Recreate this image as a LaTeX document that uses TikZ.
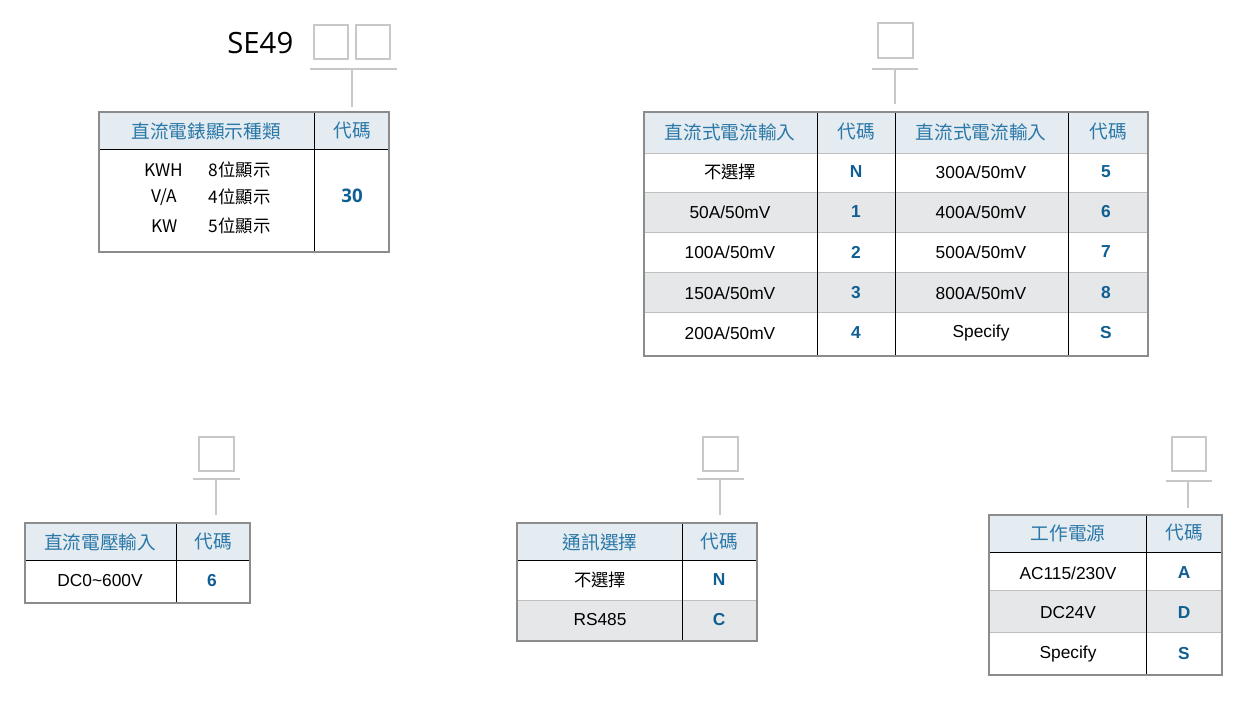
\documentclass[tikz,border=0pt]{standalone}
\usepackage{fontspec}
\setmainfont{Liberation Sans}
\newfontfamily\cjk{Noto Sans CJK TC}
\newfontfamily\opensans{Open Sans}
\definecolor{hdfill}{HTML}{E4EBF1}
\definecolor{rowgray}{HTML}{E6E7E8}
\definecolor{hdtext}{HTML}{2A78A8}
\definecolor{codeblue}{HTML}{0F5F94}
\definecolor{rule}{HTML}{8C8C8C}
\definecolor{thin}{HTML}{C8C8C8}
\tikzset{
  codebox/.style={draw=thin,line width=0.8pt},
  bracket/.style={draw=thin,line width=0.8pt},
  frame/.style={draw=rule,line width=1pt},
  hd/.style={text=hdtext,font=\cjk\fontsize{14}{14}\selectfont},
  cell/.style={font=\fontsize{13}{13}\selectfont},
  cjkcell/.style={font=\cjk\fontsize{13}{13}\selectfont},
  code/.style={text=codeblue,font=\bfseries\fontsize{13}{13}\selectfont}
}
\begin{document}
\begin{tikzpicture}[x=0.75pt,y=-0.75pt]
    \useasboundingbox (0,0) rectangle (1248,700);
    % model number
    \begin{scope}
      \node[anchor=east,font=\opensans\fontsize{22}{22}\selectfont] (model) at (298,43) {SE49};
      \draw[codebox] (314,25) rectangle (348,59);
      \draw[codebox] (356,25) rectangle (390,59);
      \draw[bracket] (310,69) -- (397,69);
      \draw[bracket] (352,69) -- (352,107);
      \fill[hdfill] (99,112) rectangle (389,149);
      \draw[thin] (99,149) -- (389,149);
      \draw[thin] (314,112) -- (314,252);
      \draw[frame] (99,112) rectangle (389,252);
      \node[hd] (t1h1) at (206,131) {直流電錶顯示種類};
      \node[hd] (t1h2) at (352,131) {代碼};
      \node[cjkcell,anchor=east] at (188,170) {KWH};
      \node[cjkcell,anchor=east] at (182,197) {V/A};
      \node[cjkcell,anchor=east] at (182,226) {KW};
      \node[cjkcell,anchor=west] at (204,170) {8位顯示};
      \node[cjkcell,anchor=west] at (204,197) {4位顯示};
      \node[cjkcell,anchor=west] at (204,226) {5位顯示};
      \node[code,font=\opensans\bfseries\fontsize{14}{14}\selectfont] (t1c) at (352,196) {30};
    \end{scope}
    % current input
    \begin{scope}
      \draw[codebox] (878,23) rectangle (913,58);
      \draw[bracket] (872,69) -- (918,69);
      \draw[bracket] (895,69) -- (895,104);
      \fill[hdfill] (644,112) rectangle (1148,153);
      \fill[rowgray] (644,192) rectangle (1148,232);
      \fill[rowgray] (644,272) rectangle (1148,312);
      \foreach \y in {153,192,232,272,312}
        \draw[white!75!black] (644,\y) -- (1148,\y);
      \foreach \x in {817,895,1068}
        \draw[thin] (\x,112) -- (\x,356);
      \draw[frame] (644,112) rectangle (1148,356);
      \node[hd] at (730,132) {直流式電流輸入};
      \node[hd] at (856,132) {代碼};
      \node[hd] at (981,132) {直流式電流輸入};
      \node[hd] at (1108,132) {代碼};
      \node[cjkcell] at (730,172) {不選擇};
      \foreach \y/\t in {212/{50A/50mV},252/{100A/50mV},293/{150A/50mV},333/{200A/50mV}}
        \node[cell] at (730,\y) {\t};
      \foreach \y/\t in {172/{300A/50mV},212/{400A/50mV},252/{500A/50mV},293/{800A/50mV},333/Specify}
        \node[cell] at (981,\y) {\t};
      \foreach \t/\y in {N/172,1/212,2/252,3/293,4/333}
        \node[code] at (856,\y) {\t};
      \foreach \t/\y in {5/172,6/212,7/252,8/293,S/333}
        \node[code] at (1106,\y) {\t};
    \end{scope}
    % voltage input
    \begin{scope}
      \draw[codebox] (199,437) rectangle (234,471);
      \draw[bracket] (193,479) -- (240,479);
      \draw[bracket] (216,479) -- (216,515);
      \fill[hdfill] (25,523) rectangle (250,560);
      \draw[thin] (25,560) -- (250,560);
      \draw[thin] (176,523) -- (176,603);
      \draw[frame] (25,523) rectangle (250,603);
      \node[hd] at (100,542) {直流電壓輸入};
      \node[hd] at (213,542) {代碼};
      \node[cell] at (100,581) {DC0\textasciitilde600V};
      \node[code] at (212,581) {6};
    \end{scope}
    % communication
    \begin{scope}
      \draw[codebox] (703,437) rectangle (738,471);
      \draw[bracket] (697,479) -- (744,479);
      \draw[bracket] (720,479) -- (720,515);
      \fill[hdfill] (517,523) rectangle (757,560);
      \fill[rowgray] (517,600) rectangle (757,641);
      \draw[thin] (517,560) -- (757,560);
      \draw[white!75!black] (517,600) -- (757,600);
      \draw[thin] (682,523) -- (682,641);
      \draw[frame] (517,523) rectangle (757,641);
      \node[hd] at (600,542) {通訊選擇};
      \node[hd] at (719,542) {代碼};
      \node[cjkcell] at (600,580) {不選擇};
      \node[cell] at (600,620) {RS485};
      \node[code] at (719,580) {N};
      \node[code] at (719,620) {C};
    \end{scope}
    % power supply
    \begin{scope}
      \draw[codebox] (1172,437) rectangle (1206,471);
      \draw[bracket] (1166,481) -- (1212,481);
      \draw[bracket] (1188,481) -- (1188,508);
      \fill[hdfill] (989,515) rectangle (1222,552);
      \fill[rowgray] (989,590) rectangle (1222,632);
      \draw[thin] (989,552) -- (1222,552);
      \foreach \y in {590,632}
        \draw[white!75!black] (989,\y) -- (1222,\y);
      \draw[thin] (1146,515) -- (1146,675);
      \draw[frame] (989,515) rectangle (1222,675);
      \node[hd] at (1068,533) {工作電源};
      \node[hd] at (1184,533) {代碼};
      \node[cell] at (1068,573) {AC115/230V};
      \node[cell] at (1068,613) {DC24V};
      \node[cell] at (1068,654) {Specify};
      \node[code] at (1184,573) {A};
      \node[code] at (1184,613) {D};
      \node[code] at (1184,654) {S};
    \end{scope}
\end{tikzpicture}
\end{document}
